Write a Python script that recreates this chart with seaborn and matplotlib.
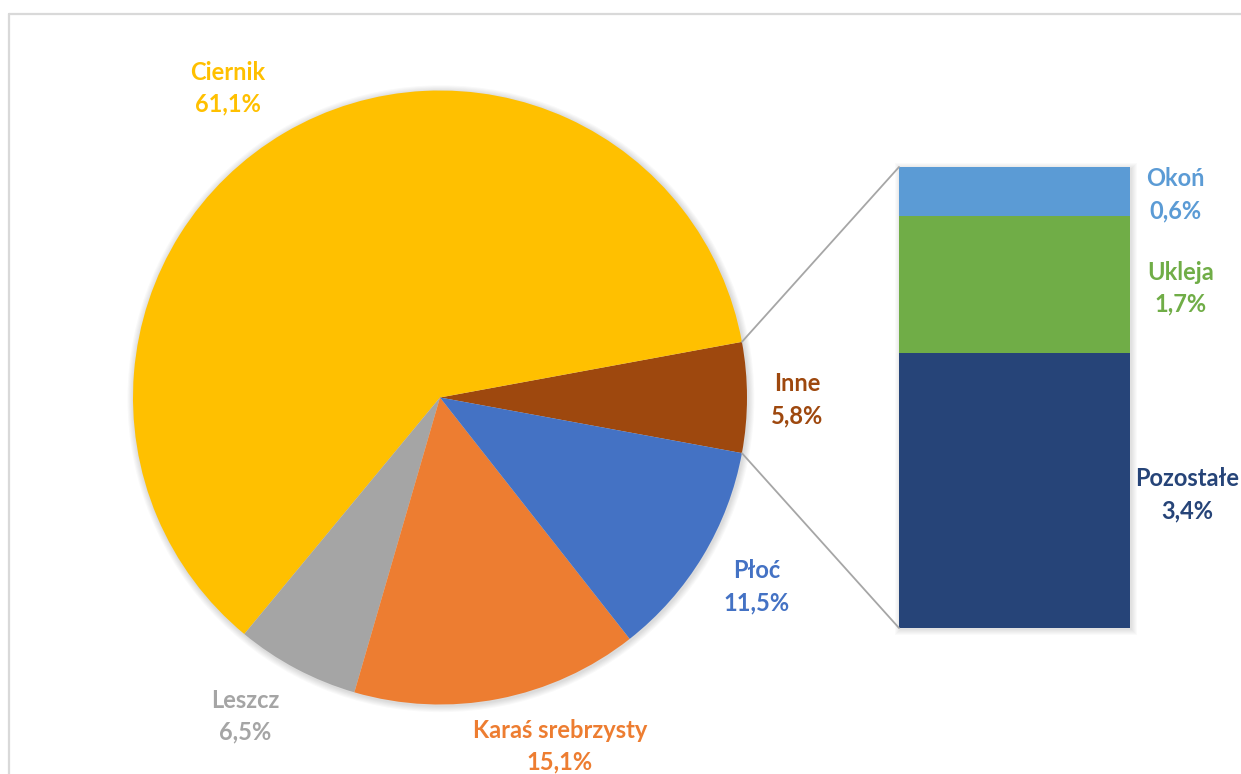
import matplotlib
matplotlib.use("Agg")
import matplotlib.pyplot as plt
from matplotlib.lines import Line2D
from matplotlib.patches import ConnectionPatch, Circle, FancyBboxPatch
import seaborn as sns
import pandas as pd
import numpy as np

# Main pie: species share of the catch (%)
pie_labels = ["Inne", "Ciernik", "Leszcz", "Karaś srebrzysty", "Płoć"]
pie_values = [5.8, 61.1, 6.5, 15.1, 11.5]
pie_colors = ["#9E480E", "#FFC000", "#A5A5A5", "#ED7D31", "#4472C4"]

# Breakdown of "Inne" (bottom to top)
bar_labels = ["Pozostałe", "Ukleja", "Okoń"]
bar_values = [3.4, 1.7, 0.6]
bar_colors = ["#264478", "#70AD47", "#5B9BD5"]

W, H = 1241, 774
sns.set_theme(style="white")
plt.rcParams["font.family"] = ["Lato", "DejaVu Sans"]

fig = plt.figure(figsize=(W / 100, H / 100), dpi=100)


def fx(px):
    return px / W


def fy(py):
    return 1 - py / H


# chart-area border (top and left edges visible)
fig.add_artist(Line2D([fx(9), fx(W + 5)], [fy(14), fy(14)], color="#D9D9D9", lw=1.6,
                      transform=fig.transFigure))
fig.add_artist(Line2D([fx(9), fx(9)], [fy(14), fy(H + 5)], color="#D9D9D9", lw=1.6,
                      transform=fig.transFigure))

# --- pie ---
ax_pie = fig.add_axes([fx(133), fy(705), fx(747) - fx(133), fy(90) - fy(705)])
# soft shadow under the pie
for k in range(6, 0, -1):
    ax_pie.add_patch(Circle((0.003, -0.004), 1.0 + k * 0.0035, color="black",
                            alpha=0.022, lw=0, zorder=0))
start = -pie_values[0] / 100 * 360 / 2
wedges, _ = ax_pie.pie(pie_values, colors=pie_colors, startangle=start, counterclock=True,
                       radius=1.0, wedgeprops=dict(edgecolor="none", linewidth=0))
for w in wedges:
    w.set_zorder(2)
lim = 1.03
ax_pie.set_xlim(-lim, lim)
ax_pie.set_ylim(-lim, lim)
ax_pie.set_aspect("equal")
ax_pie.axis("off")
# keep the pie radius at 307 px: expand axes box to account for the margin
pos = ax_pie.get_position()
cx, cy = (pos.x0 + pos.x1) / 2, (pos.y0 + pos.y1) / 2
ax_pie.set_position([cx - pos.width * lim / 2, cy - pos.height * lim / 2,
                     pos.width * lim, pos.height * lim])

# --- stacked bar for "Inne" ---
bx0, bx1, by0, by1 = fx(899), fx(1130), fy(628), fy(167)
for k in range(6, 0, -1):
    dx, dy = k * 0.9 / W, k * 0.9 / H
    fig.add_artist(FancyBboxPatch((bx0 - dx + 1.5 / W, by0 - dy - 1.5 / H),
                                  (bx1 - bx0) + 2 * dx, (by1 - by0) + 2 * dy,
                                  boxstyle="square,pad=0", transform=fig.transFigure,
                                  color="black", alpha=0.02, lw=0, zorder=0))
ax_bar = fig.add_axes([bx0, by0, bx1 - bx0, by1 - by0])
cum = np.cumsum(bar_values)
for i in range(len(bar_values) - 1, -1, -1):
    df = pd.DataFrame({"g": ["Inne"], "v": [cum[i]]})
    sns.barplot(data=df, x="g", y="v", color=bar_colors[i], saturation=1,
                width=0.8, ax=ax_bar, linewidth=0, edgecolor="none")
ax_bar.set_xlim(-0.4, 0.4)
ax_bar.set_ylim(0, cum[-1])
ax_bar.axis("off")

# connector lines from the "Inne" wedge to the bar
half = np.deg2rad(pie_values[0] / 100 * 360 / 2)
for sgn, yb in [(1, 1), (-1, 0)]:
    con = ConnectionPatch(xyA=(np.cos(half), sgn * np.sin(half)), coordsA=ax_pie.transData,
                          xyB=(0, yb), coordsB=ax_bar.transAxes,
                          color="#A6A6A6", lw=1.3)
    fig.add_artist(con)

# --- data labels ---
fs = 17
label_pos = {
    "Ciernik": (228, 72, 104),
    "Inne": (797, 383, 416),
    "Płoć": (757, 570, 603),
    "Karaś srebrzysty": (560, 730, 762),
    "Leszcz": (245, 700, 732),
}
for name, val, col in zip(pie_labels, pie_values, pie_colors):
    x, y1, y2 = label_pos[name]
    fig.text(fx(x), fy(y1), name, color=col, ha="center", va="center",
             fontsize=fs, fontweight="bold")
    fig.text(fx(x), fy(y2), f"{val:.1f}%".replace(".", ","), color=col, ha="center",
             va="center", fontsize=fs, fontweight="bold")

bar_pos = {
    "Okoń": (1175, 178, 211),
    "Ukleja": (1181, 272, 304),
    "Pozostałe": (1187, 478, 511),
}
for name, val, col in zip(bar_labels, bar_values, bar_colors):
    x, y1, y2 = bar_pos[name]
    fig.text(fx(x), fy(y1), name, color=col, ha="center", va="center",
             fontsize=fs, fontweight="bold")
    fig.text(fx(x), fy(y2), f"{val:.1f}%".replace(".", ","), color=col, ha="center",
             va="center", fontsize=fs, fontweight="bold")

fig.savefig("out.png", dpi=100)
